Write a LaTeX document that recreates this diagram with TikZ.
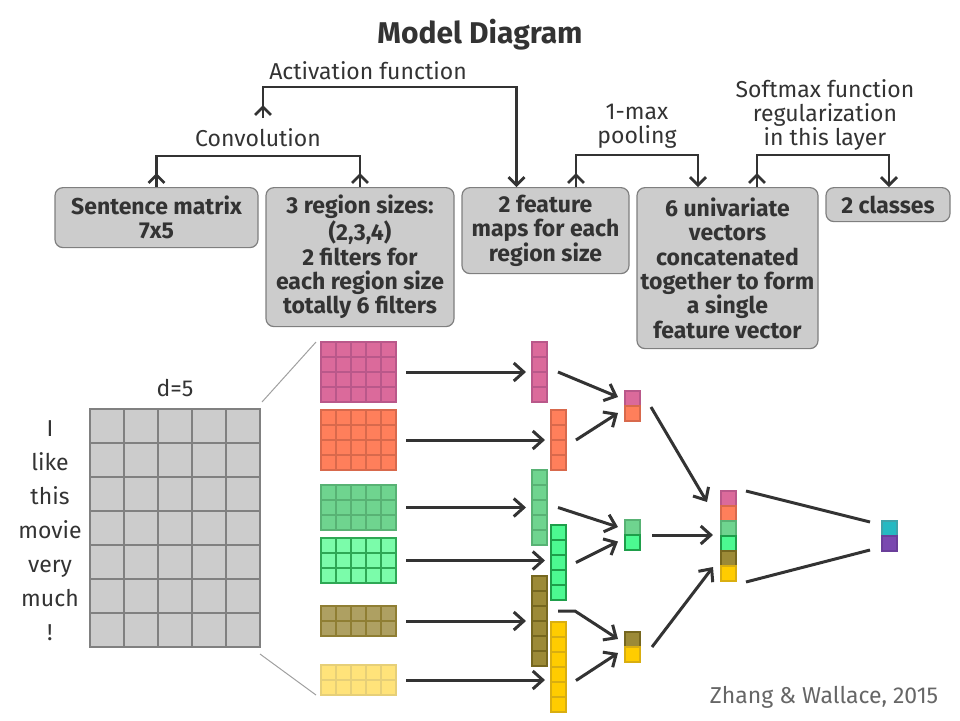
\documentclass[tikz,border=0pt]{standalone}
\usepackage{fontspec}
\setmainfont{Fira Sans}
\usetikzlibrary{arrows.meta,calc,decorations.markings}
\definecolor{ink}{HTML}{333333}
\definecolor{credit}{HTML}{666666}
\definecolor{boxgray}{HTML}{CCCCCC}
\definecolor{boxline}{HTML}{7F7F7F}
\definecolor{spreadgray}{HTML}{A0A0A0}
\definecolor{gridF}{HTML}{CCCCCC}\definecolor{gridD}{HTML}{808080}
\definecolor{pinkF}{HTML}{DB6A9B}\definecolor{pinkD}{HTML}{B9588A}
\definecolor{coralF}{HTML}{FF7F5B}\definecolor{coralD}{HTML}{D8694C}
\definecolor{greenF}{HTML}{6FD48F}\definecolor{greenD}{HTML}{58B274}
\definecolor{limeF}{HTML}{4CF991}\definecolor{limeD}{HTML}{1E9E4A}
\definecolor{palelimeF}{HTML}{7BFCAA}\definecolor{palelimeD}{HTML}{2EA855}
\definecolor{khakiF}{HTML}{9C8A37}\definecolor{khakiD}{HTML}{76671F}
\definecolor{palekhakiF}{HTML}{AEA062}\definecolor{palekhakiD}{HTML}{8F7E33}
\definecolor{goldF}{HTML}{FFCC00}\definecolor{goldD}{HTML}{D9AE10}
\definecolor{palegoldF}{HTML}{FFE37A}\definecolor{palegoldD}{HTML}{E6CF78}
\definecolor{cyanF}{HTML}{25B9C2}\definecolor{cyanD}{HTML}{3FA3AA}
\definecolor{violetF}{HTML}{7A48B0}\definecolor{violetD}{HTML}{6A3E9A}
\tikzset{
  every node/.style={font=\fontsize{11.5}{12}\selectfont,text=ink},
  box/.style={draw=boxline,fill=boxgray,rounded corners=4pt,line width=.6pt,
    align=center,inner sep=1pt,anchor=north,
    font=\fontsize{11.5}{12.2}\selectfont\bfseries},
  link/.style={draw=ink,line width=1.4pt},
  tip/.style={-{Straight Barb[length=4pt,width=8pt]}},
  uptip/.style={postaction={decorate,decoration={markings,
    mark=at position #1 with {\arrow{Straight Barb[length=4pt,width=8pt]}}}}},
  arr/.style={draw=ink,line width=1.5pt,-{Straight Barb[length=5pt,width=9pt]}},
  spread/.style={draw=spreadgray,line width=.5pt},
  cell/.style={fill=#1F,draw=#1D,line width=.8pt},
  slot/.style={inner sep=0,outer sep=0,anchor=north west}}
% uniform block of 15px cells: name, x, y, cols, rows, colour
\newcommand\cellblock[6]{%
  \foreach \i in {1,...,#4}
    \foreach \j in {1,...,#5}
      \draw[cell=#6] (#2+\i*15-15,#3+\j*15-15) rectangle ++(15,15);
  \node[slot,minimum width={#4*7.5pt},minimum height={#5*7.5pt}] (#1) at (#2,#3) {};}
% vertical stack of coloured cells: name, x, y, count, colours
\newcommand\cellstack[5]{%
  \foreach \c [count=\k] in {#5}
    \draw[cell=\c] (#2,#3+\k*15-15) rectangle ++(15,15);
  \node[slot,minimum width=7.5pt,minimum height={#4*7.5pt}] (#1) at (#2,#3) {};}

\begin{document}
\begin{tikzpicture}[x=.5pt,y=-.5pt]
\useasboundingbox (0,0) rectangle (960,720);
\node[font=\fontsize{15}{18}\selectfont\bfseries] (title) at (480,35) {Model Diagram};

% layer boxes
\node[box,minimum width=101.5pt,minimum height=30pt] (sm) at (156.5,187) {Sentence matrix\\7x5};
\node[box,minimum width=94pt,minimum height=69.5pt] (rs) at (360,187) {3 region sizes:\\(2,3,4)\\2 filters for\\each region size\\totally 6 filters};
\node[box,minimum width=83.5pt,minimum height=43pt] (fm) at (545.5,187) {2 feature\\maps for each\\region size};
\node[box,minimum width=90.5pt,minimum height=80.5pt] (uv) at (727.5,187) {6 univariate\\vectors\\concatenated\\together to form\\a single\\feature vector};
\node[box,minimum width=62pt,minimum height=17pt] (cl) at (888,187) {2 classes};

% operations
\node (conv) at (258,138) {Convolution};
\node (act) at (368,71) {Activation function};
\node[align=center] (pool) at (637,126.5) {1-max\\pooling};
\node[align=center] (soft) at (825,114.5) {Softmax function\\regularization\\in this layer};
\coordinate (convmid) at (258,156);
\coordinate (actstart) at (263,118);
\draw[link,uptip=7pt] (sm.north) |- (convmid);
\draw[link,uptip=7pt] (rs.north) |- (convmid);
\draw[link,uptip=6.5pt,tip] (actstart) |- ($(fm.north)+(-29,-100)$) -- ($(fm.north)+(-29,0)$);
\draw[link,uptip=7pt,tip] ($(fm.north)+(30.5,0)$) |- ($(uv.north)+(-29.5,-32)$) -- ($(uv.north)+(-29.5,0)$);
\draw[link,uptip=7pt,tip] ($(uv.north)+(29.5,0)$) |- ($(cl.north)+(1,-32)$) -- ($(cl.north)+(1,0)$);

% sentence matrix
\foreach \i in {0,...,4}
  \foreach \j in {0,...,6}
    \draw[cell=grid,line width=.75pt] (90+\i*34,409+\j*34) rectangle ++(34,34);
\node[slot,minimum width=85pt,minimum height=119pt] (sent) at (90,409) {};
\node (dim) at (175,388) {d=5};
\foreach \w [count=\k] in {I,like,this,movie,very,much,!}
  \node[anchor=base] (w\k) at (50,402+\k*34) {\w};

% filters
\cellblock{fp}{321}{342}{5}{4}{pink}
\cellblock{fo}{321}{410}{5}{4}{coral}
\cellblock{fg}{321}{485}{5}{3}{green}
\cellblock{fl}{321}{538}{5}{3}{palelime}
\cellblock{fv}{321}{606}{5}{2}{palekhaki}
\cellblock{fy}{321}{665}{5}{2}{palegold}
\draw[spread] ($(sent.north east)+(2,-7)$) -- ($(fp.north west)+(-5,0)$);
\draw[spread] ($(sent.south east)+(0,7)$) -- ($(fy.south west)+(-5,0)$);

% feature maps
\cellblock{mp}{532}{342}{1}{4}{pink}
\cellblock{mo}{551}{410}{1}{4}{coral}
\cellblock{mg}{532}{470}{1}{5}{green}
\cellblock{ml}{551}{525}{1}{5}{lime}
\cellblock{mv}{532}{576}{1}{6}{khaki}
\cellblock{my}{551}{622}{1}{6}{gold}
\foreach \f/\m in {fp/mp,fo/mo,fg/mg,fl/ml,fv/mv,fy/my}
  \draw[arr,shorten <=5pt,shorten >=3pt] (\f.east) -- (\f.east -| \m.west);

% pooled pairs, concatenation, output
\cellstack{pa}{625}{391}{2}{pink,coral}
\cellstack{pb}{625}{520}{2}{green,lime}
\cellstack{pc}{625}{632}{2}{khaki,gold}
\cellstack{cc}{721}{491}{6}{pink,coral,green,lime,khaki,gold}
\cellstack{out}{882}{521}{2}{cyan,violet}
\draw[arr] ($(mp.east)+(11,0)$) -- ($(pa.west)+(-7,-9)$);
\draw[arr] ($(mo.east)+(10,0)$) -- ($(pa.west)+(-7,7)$);
\draw[arr] ($(mg.east)+(11,0)$) -- ($(pb.west)+(-7,-8)$);
\draw[arr] ($(ml.east)+(10,0)$) -- ($(pb.west)+(-7,6.5)$);
\draw[arr] ($(mv.east)+(11,-10)$) -- ++(17,0) -- ($(pc.west)+(-7,-8)$);
\draw[arr] ($(my.east)+(10,13.5)$) -- ($(pc.west)+(-7,6)$);
\draw[arr] ($(pa.east)+(11,1)$) -- ($(cc.west)+(-14,-34)$);
\draw[arr] ($(pb.east)+(12,0)$) -- ($(cc.west)+(-8,-1)$);
\draw[arr] ($(pc.east)+(12,0)$) -- ($(cc.west)+(-8,31)$);
\draw[link,line width=1.5pt] ($(cc.north east)+(10,0)$) -- ($(out.north west)+(-12,1)$);
\draw[link,line width=1.5pt] ($(cc.south east)+(10,1)$) -- ($(out.south west)+(-12,-1)$);

\node[text=credit] (cite) at (824,697) {Zhang \& Wallace, 2015};
\end{tikzpicture}
\end{document}
